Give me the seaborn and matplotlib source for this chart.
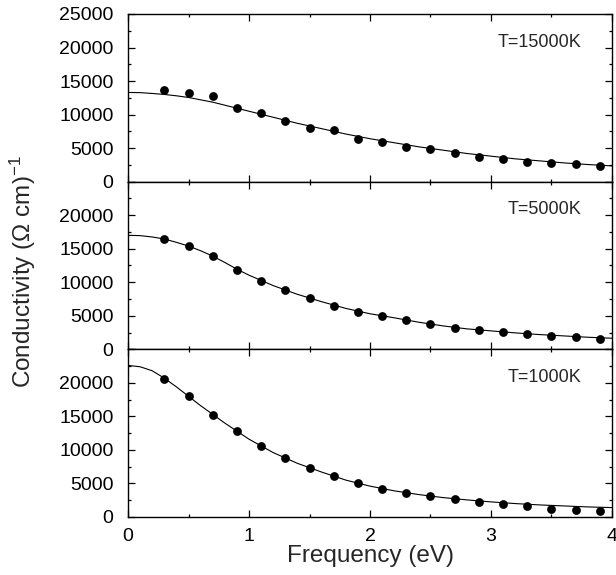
import numpy as np
import pandas as pd
import seaborn as sns
import matplotlib.pyplot as plt
from matplotlib.ticker import MultipleLocator

# frequency grid of the data points (eV)
freq_pts = [0.3, 0.5, 0.7, 0.9, 1.1, 1.3, 1.5, 1.7, 1.9, 2.1,
            2.3, 2.5, 2.7, 2.9, 3.1, 3.3, 3.5, 3.7, 3.9]
# frequency grid of the fitted curves (eV), denser where they bend most
freq_fit = [0.0, 0.1, 0.2, 0.3, 0.4, 0.5, 0.6, 0.7, 0.8, 0.9, 1.0,
            1.2, 1.4, 1.6, 1.8, 2.0, 2.2, 2.4, 2.6, 2.8, 3.0,
            3.2, 3.4, 3.6, 3.8, 4.0]

temps = ["T=15000K", "T=5000K", "T=1000K"]

# T = 15000 K
pts_15000 = [13600, 13200, 12700, 11000, 10300, 9100, 8000, 7700, 6300, 5900,
             5200, 4800, 4200, 3700, 3400, 3000, 2800, 2600, 2400]
fit_15000 = [13300, 13270, 13150, 13000, 12800, 12550, 12200, 11850, 11400, 10950, 10500,
             9600, 8700, 7900, 7100, 6400, 5800, 5200, 4700, 4200, 3800,
             3400, 3100, 2800, 2550, 2350]

# T = 5000 K
pts_5000 = [16400, 15400, 13900, 11850, 10250, 8900, 7650, 6500, 5600, 5000,
            4350, 3700, 3200, 2900, 2600, 2300, 2000, 1800, 1600]
fit_5000 = [17000, 16950, 16750, 16450, 15950, 15400, 14700, 13900, 12950, 11950, 11050,
            9500, 8200, 7100, 6100, 5300, 4700, 4050, 3500, 3050, 2750,
            2450, 2200, 2000, 1800, 1650]

# T = 1000 K
pts_1000 = [20500, 18000, 15200, 12800, 10550, 8850, 7350, 6050, 5000, 4200,
            3600, 3100, 2650, 2300, 1950, 1600, 1250, 1050, 850]
fit_1000 = [22600, 22400, 21800, 20700, 19400, 18000, 16600, 15300, 14000, 12800, 11600,
            9600, 8000, 6700, 5500, 4600, 3900, 3350, 2900, 2550, 2250,
            2000, 1800, 1650, 1500, 1400]

points = [pts_15000, pts_5000, pts_1000]
fits = [fit_15000, fit_5000, fit_1000]

sns.set_theme(style="ticks")
plt.rcParams['font.family'] = ['Liberation Sans', 'DejaVu Sans']
plt.rcParams['mathtext.fontset'] = 'custom'
plt.rcParams['mathtext.rm'] = 'Liberation Sans'
plt.rcParams['mathtext.it'] = 'Liberation Sans:italic'
plt.rcParams['axes.linewidth'] = 1.0

fig, axes = plt.subplots(3, 1, sharex=True, figsize=(6.16, 5.75), dpi=100)
fig.subplots_adjust(left=0.2078, right=0.9935, top=0.9757, bottom=0.1009, hspace=0)

for i, ax in enumerate(axes):
    df_fit = pd.DataFrame({"freq": freq_fit, "sigma": fits[i]})
    df_pts = pd.DataFrame({"freq": freq_pts, "sigma": points[i]})
    sns.lineplot(data=df_fit, x="freq", y="sigma", ax=ax, color="black", linewidth=0.8)
    sns.scatterplot(data=df_pts, x="freq", y="sigma", ax=ax, color="black", s=40,
                    edgecolor="black", linewidth=0, zorder=3)
    ax.set_xlim(0, 4)
    ax.set_ylim(0, 25000)
    ax.set_yticks(range(0, 25001, 5000))
    if i == 0:
        ax.set_yticklabels([str(v) for v in range(0, 25001, 5000)])
    else:
        ax.set_yticklabels([str(v) for v in range(0, 20001, 5000)] + [""])
    ax.yaxis.set_minor_locator(MultipleLocator(2500))
    ax.xaxis.set_major_locator(MultipleLocator(1))
    ax.xaxis.set_minor_locator(MultipleLocator(0.5))
    ax.tick_params(which="both", direction="in", top=True, right=True,
                   labelsize=14, color="black", labelcolor="black")
    ax.tick_params(which="major", length=5, width=0.9)
    ax.tick_params(axis="y", which="major", pad=10.5)
    ax.tick_params(axis="x", which="major", pad=8)
    ax.tick_params(which="minor", length=2.5, width=0.9)
    ax.set_xlabel("")
    ax.set_ylabel("")
    ax.text(0.936, 20800, temps[i], transform=ax.get_yaxis_transform(),
            ha="right", va="center", fontsize=13)
    for sp in ax.spines.values():
        sp.set_color("black")

axes[2].set_xlabel("Frequency (eV)", fontsize=17.5, labelpad=0)
fig.text(0.037, 0.528, r"Conductivity ($\Omega$ cm)$^{-1}$", rotation=90,
         ha="center", va="center", fontsize=17.5)

fig.savefig("out.png", dpi=100)
